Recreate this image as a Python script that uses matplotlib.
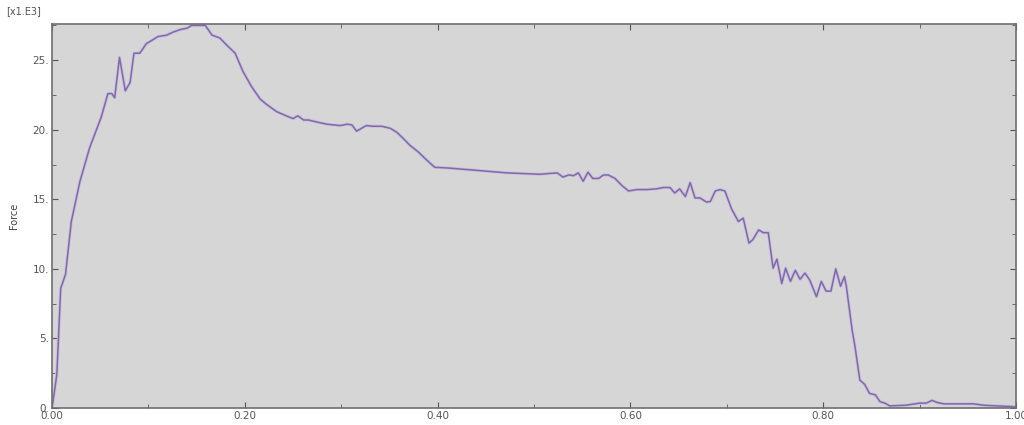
import matplotlib
matplotlib.use("Agg")
import matplotlib.pyplot as plt
from matplotlib.ticker import MultipleLocator, FuncFormatter

# displacement (normalised) and force [x1.E3]
disp = [0.000, 0.005, 0.009, 0.014, 0.020, 0.029, 0.039, 0.051, 0.058, 0.062,
        0.065, 0.070, 0.076, 0.081, 0.085, 0.091, 0.098, 0.103, 0.110, 0.119,
        0.125, 0.133, 0.140, 0.145, 0.159, 0.166, 0.174, 0.181, 0.190, 0.198,
        0.207, 0.216, 0.223, 0.233, 0.243, 0.250, 0.255, 0.261, 0.266, 0.275,
        0.285, 0.299, 0.306, 0.311, 0.316, 0.321, 0.326, 0.333, 0.342, 0.351,
        0.358, 0.364, 0.371, 0.380, 0.389, 0.397, 0.411, 0.437, 0.472, 0.506,
        0.524, 0.530, 0.536, 0.541, 0.546, 0.551, 0.556, 0.561, 0.567, 0.572,
        0.577, 0.584, 0.591, 0.598, 0.607, 0.617, 0.627, 0.634, 0.641, 0.646,
        0.651, 0.657, 0.662, 0.667, 0.672, 0.679, 0.683, 0.688, 0.693, 0.698,
        0.705, 0.712, 0.717, 0.723, 0.727, 0.733, 0.738, 0.743, 0.748, 0.752,
        0.757, 0.761, 0.766, 0.771, 0.776, 0.781, 0.786, 0.793, 0.798, 0.803,
        0.808, 0.813, 0.818, 0.822, 0.824, 0.830, 0.833, 0.838, 0.843, 0.848,
        0.854, 0.859, 0.864, 0.869, 0.886, 0.900, 0.907, 0.913, 0.918, 0.925,
        0.939, 0.956, 0.966, 0.980, 0.997, 1.000]
force = [0.0, 2.4, 8.6, 9.6, 13.4, 16.3, 18.7, 20.9, 22.6, 22.6,
         22.3, 25.2, 22.8, 23.4, 25.5, 25.5, 26.2, 26.4, 26.7, 26.8,
         27.0, 27.2, 27.3, 27.5, 27.5, 26.8, 26.6, 26.1, 25.5, 24.2,
         23.1, 22.2, 21.8, 21.3, 21.0, 20.8, 21.0, 20.7, 20.7, 20.55,
         20.4, 20.3, 20.4, 20.35, 19.9, 20.1, 20.3, 20.25, 20.25, 20.1,
         19.8, 19.4, 18.9, 18.4, 17.8, 17.3, 17.25, 17.1, 16.9, 16.8,
         16.9, 16.6, 16.75, 16.7, 16.9, 16.3, 16.95, 16.5, 16.5, 16.75,
         16.75, 16.5, 16.0, 15.6, 15.7, 15.7, 15.75, 15.85, 15.85, 15.45,
         15.75, 15.2, 16.2, 15.1, 15.1, 14.8, 14.85, 15.6, 15.7, 15.6,
         14.3, 13.4, 13.65, 11.85, 12.1, 12.8, 12.6, 12.6, 10.05, 10.7,
         8.95, 10.05, 9.1, 9.9, 9.25, 9.7, 9.2, 8.0, 9.1, 8.4,
         8.4, 10.0, 8.75, 9.45, 8.75, 5.6, 4.4, 2.0, 1.7, 1.05,
         0.95, 0.45, 0.35, 0.15, 0.2, 0.35, 0.35, 0.55, 0.4, 0.3,
         0.3, 0.3, 0.2, 0.15, 0.1, 0.05]

fig = plt.figure(figsize=(10.24, 4.25), dpi=100)
ax = fig.add_axes([0.0508, 0.04, 0.9414, 0.9035])
ax.set_facecolor("#d6d6d6")

# soft lavender halo under the purple curve
ax.plot(disp, force, color="#cbbfe0", linewidth=2.3, solid_joinstyle="round")
ax.plot(disp, force, color="#7f6aa6", linewidth=1.1, solid_joinstyle="round")

ax.set_xlim(0, 1.0)
ax.set_ylim(0, 27.6)

ax.xaxis.set_major_locator(MultipleLocator(0.2))
ax.xaxis.set_minor_locator(MultipleLocator(0.1))
ax.yaxis.set_major_locator(MultipleLocator(5))
ax.yaxis.set_minor_locator(MultipleLocator(2.5))
ax.xaxis.set_major_formatter(FuncFormatter(lambda v, p: "%.2f" % v))
ax.yaxis.set_major_formatter(FuncFormatter(lambda v, p: "%d." % round(v)))

ax.tick_params(which="both", direction="in", top=True, right=True,
               color="#555555", labelsize=7.5, labelcolor="#555555", pad=2)
ax.tick_params(which="major", length=4)
ax.tick_params(which="minor", length=3)

for s in ax.spines.values():
    s.set_color("#6e6e6e")
    s.set_linewidth(1.2)

ax.set_ylabel("Force", fontsize=7, color="#444444", labelpad=10)
fig.text(0.006, 0.966, "[x1.E3]", fontsize=7, color="#555555")

plt.savefig("out.png", dpi=100)
